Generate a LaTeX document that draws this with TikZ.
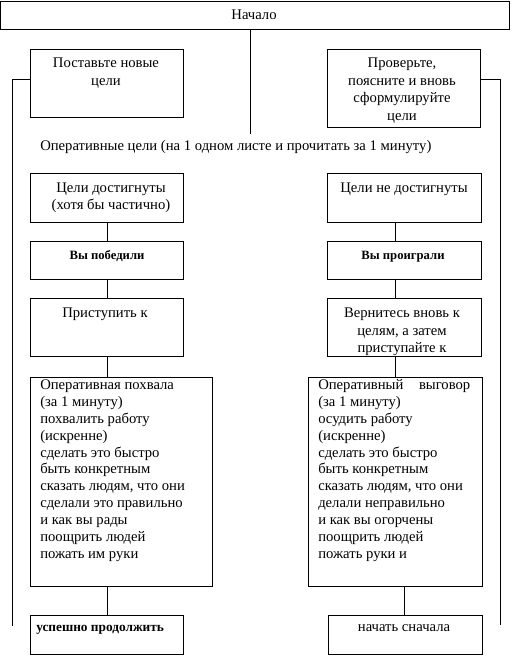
\documentclass[tikz,border=0pt]{standalone}
\usepackage{fontspec}
\setmainfont{Liberation Serif}
\usetikzlibrary{fit}
\newcommand\ctxt[1]{\parbox[t]{150pt}{\centering #1}}
\newcommand\ltxt[1]{\parbox[t]{125pt}{\raggedright #1}}
\begin{document}
\begin{tikzpicture}[x=0.75pt,y=-0.75pt,
  box/.style={draw, line width=0.6pt, inner sep=0pt, rectangle},
  txt/.style={inner sep=0pt, anchor=base, font=\fontsize{11}{13.1}\selectfont},
  ltx/.style={inner sep=0pt, anchor=base west, font=\fontsize{11}{12.7}\selectfont},
  btx/.style={inner sep=0pt, font=\fontsize{9.5}{11}\selectfont\bfseries},
  lnk/.style={line width=0.6pt}]
\useasboundingbox (0,0) rectangle (511,656);
% boxes
\node[box, fit={(0.5,1) (509,29)}] (nach) {};
\node[box, fit={(30,49) (183,117)}] (p1) {};
\node[box, fit={(327,49) (480,127)}] (p2) {};
\node[box, fit={(30,173) (183,222)}] (g1) {};
\node[box, fit={(327,173) (481,222)}] (g2) {};
\node[box, fit={(30,241) (183,279)}] (w1) {};
\node[box, fit={(327,241) (481,279)}] (w2) {};
\node[box, fit={(30,298) (183,356)}] (s1) {};
\node[box, fit={(327,298) (481,356)}] (s2) {};
\node[box, fit={(30,377) (212,586)}] (b1) {};
\node[box, fit={(308,377) (482,586)}] (b2) {};
\node[box, fit={(30,615) (183,654)}] (e1) {};
\node[box, fit={(328,615) (482,654)}] (e2) {};
% texts
\node[txt] (tnach) at (254,20) {Начало};
\node[txt] (tp1) at (106,68) {\ctxt{Поставьте новые\\цели}};
\node[txt] (tp2) at (402,68) {\ctxt{Проверьте,\\поясните и вновь\\сформулируйте\\цели}};
\node[txt, anchor=base west] (top) at (40,151) {Оперативные цели (на 1 одном листе и прочитать за 1 минуту)};
\node[txt] (tg1) at (111,192.5) {\ctxt{Цели достигнуты\\(хотя бы частично)}};
\node[txt] (tg2) at (404,192.5) {Цели не достигнуты};
\node[btx, anchor=base] (tw1) at (107,259) {Вы победили};
\node[btx, anchor=base] (tw2) at (403,259) {Вы проиграли};
\node[txt] (ts1) at (105,317.7) {Приступить к};
\node[txt] (ts2) at (402,317.7) {\ctxt{Вернитесь вновь к\\целям, а затем\\приступайте к}};
\node[ltx] (tb1) at (40,389.3) {\ltxt{Оперативная похвала\\(за 1 минуту)\\похвалить работу\\(искренне)\\сделать это быстро\\быть конкретным\\сказать людям, что они\\сделали это правильно\\и как вы рады\\поощрить людей\\пожать им руки}};
\node[ltx] (tb2) at (318,389.3) {\ltxt{\makebox[114pt][s]{Оперативный\hfill выговор}\\(за 1 минуту)\\осудить работу\\(искренне)\\сделать это быстро\\быть конкретным\\сказать людям, что они\\делали неправильно\\и как вы огорчены\\поощрить людей\\пожать руки и}};
\node[btx, font=\fontsize{10}{12}\selectfont\bfseries, anchor=base west] (te1) at (36,631.7) {успешно продолжить};
\node[txt] (te2) at (404,631.7) {начать сначала};
% coordinates
\coordinate (cm) at (250,134);
\coordinate (lt) at (12,79);
\coordinate (lb) at (12,626);
\coordinate (rt) at (500,79);
\coordinate (rb) at (500,625);
\coordinate (xl) at (107,0);
\coordinate (xr) at (395,0);
\coordinate (xr2) at (404,0);
% connectors
\draw[lnk] (cm |- nach.south) -- (cm);
\draw[lnk] (lt -| p1.west) -- (lt) -- (lb);
\draw[lnk] (rt -| p2.east) -- (rt) -- (rb);
\draw[lnk] (g1.south -| xl) -- (w1.north -| xl);
\draw[lnk] (w1.south -| xl) -- (s1.north -| xl);
\draw[lnk] (s1.south -| xl) -- (b1.north -| xl);
\draw[lnk] (b1.south -| xl) -- (e1.north -| xl);
\draw[lnk] (g2.south -| xr) -- (w2.north -| xr);
\draw[lnk] (w2.south -| xr) -- (s2.north -| xr);
\draw[lnk] (s2.south -| xr) -- (b2.north -| xr);
\draw[lnk] (b2.south -| xr2) -- (e2.north -| xr2);
\end{tikzpicture}
\end{document}
